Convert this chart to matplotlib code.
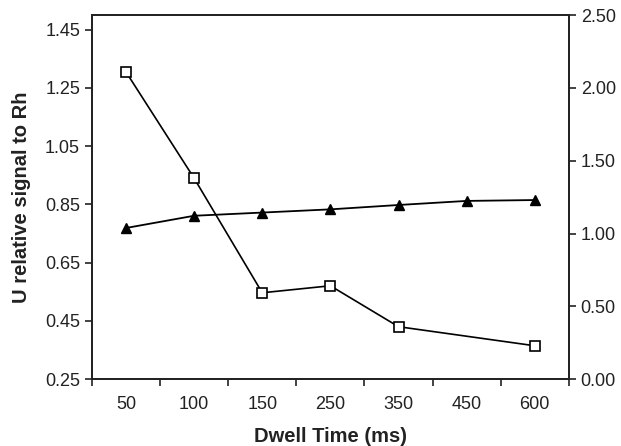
import numpy as np
import matplotlib.pyplot as plt

plt.rcParams['font.family'] = ['Liberation Sans', 'DejaVu Sans']

dwell = ['50', '100', '150', '250', '350', '450', '600']
triangle_vals = [0.769, 0.811, 0.822, 0.833, 0.848, 0.862, 0.865]
square_dwell = ['50', '100', '150', '250', '350', '600']
square_vals = [2.11, 1.38, 0.593, 0.641, 0.36, 0.229]

xpos = np.arange(len(dwell))
sq_pos = [dwell.index(d) for d in square_dwell]

fig = plt.figure(figsize=(6.21, 4.46), dpi=100)
ax = fig.add_axes([0.148, 0.150, 0.768, 0.816])
ax2 = ax.twinx()

ax.plot(xpos, triangle_vals, color='black', marker='^', markersize=7, linewidth=1.3, zorder=3)
ax2.plot(sq_pos, square_vals, color='black', marker='s', markersize=7,
         markerfacecolor='white', markeredgewidth=1.2, linewidth=1.2, zorder=3)

ax.set_xlim(-0.5, len(dwell) - 0.5)
ax.set_ylim(0.25, 1.5)
ax.set_yticks(np.arange(0.25, 1.46, 0.2))
ax.set_yticklabels(['%.2f' % v for v in np.arange(0.25, 1.46, 0.2)])
ax2.set_ylim(0, 2.5)
ax2.set_yticks(np.arange(0, 2.51, 0.5))
ax2.set_yticklabels(['%.2f' % v for v in np.arange(0, 2.51, 0.5)])

# category boundaries carry the tick marks, labels sit in between
ax.set_xticks(np.arange(-0.5, len(dwell), 1.0))
ax.set_xticklabels([])
ax.set_xticks(xpos, minor=True)
ax.set_xticklabels(dwell, minor=True)
ax.tick_params(axis='x', which='minor', length=0, pad=12, labelsize=13, colors='#222222')
ax.tick_params(axis='x', which='major', length=5, width=1.2, colors='#222222')

for a in (ax, ax2):
    a.tick_params(axis='y', direction='out', length=5, width=1.2, labelsize=13, colors='#222222')
    for s in a.spines.values():
        s.set_linewidth(1.3)
        s.set_color('#222222')

ax.set_xlabel('Dwell Time (ms)', fontsize=14.5, fontweight='bold', color='#222222', labelpad=10)
ax.set_ylabel('U relative signal to Rh', fontsize=14.5, fontweight='bold', color='#222222', labelpad=10)

fig.savefig('out.png', dpi=100)
